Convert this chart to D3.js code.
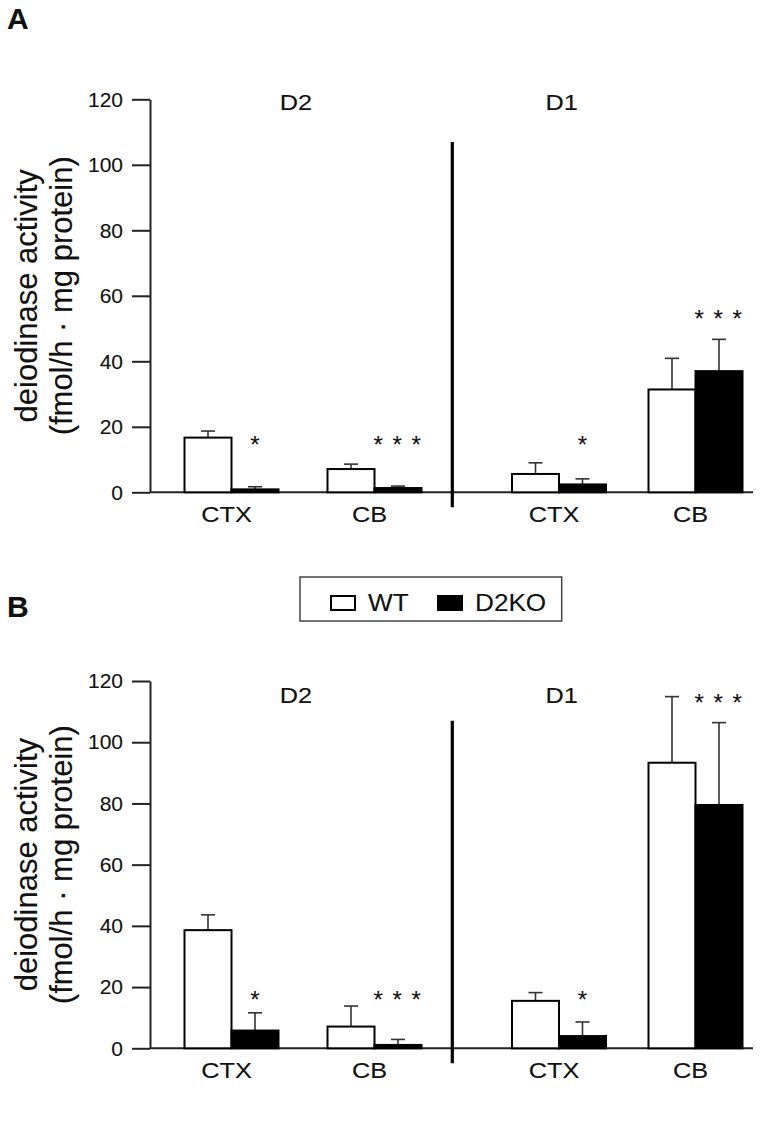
<!DOCTYPE html>
<html>
<head>
<meta charset="utf-8">
<script src="https://cdn.jsdelivr.net/npm/d3@7"></script>
<style>
  html, body { margin: 0; padding: 0; background: #fff; }
  svg { display: block; }
  text { font-family: "Liberation Sans", Arial, Helvetica, sans-serif; fill: #111; stroke: #111; stroke-width: 0.12px; }
</style>
</head>
<body>
<svg id="chart" width="761" height="1125"></svg>
<script>
// ---------------- data ----------------
const enzymes = ["D2", "D1"];
const regions = ["CTX", "CB"];
const genotypes = ["WT", "D2KO"];
const yTicks = [0, 20, 40, 60, 80, 100, 120];
const panelLabels = ["A", "B"];
const yTitle1 = "deiodinase activity";
const yTitle2 = "(fmol/h · mg protein)";

// order of values: D2-CTX, D2-CB, D1-CTX, D1-CB
const aWT    = [16.7, 7.1, 5.6, 31.4];
const aWTerr = [2.0, 1.5, 3.4, 9.5];
const aKO    = [0.9, 1.3, 2.4, 37.0];
const aKOerr = [0.8, 0.6, 1.7, 9.7];

const bWT    = [38.6, 7.1, 15.5, 93.3];
const bWTerr = [5.0, 6.7, 2.7, 21.6];
const bKO    = [5.8, 1.1, 4.0, 79.5];
const bKOerr = [5.8, 1.8, 4.6, 26.9];

const sigLabels = ["*", "***", "*", "***"];
const aSigAt = [16.0, 16.0, 16.0, 54.5];
const bSigAt = [17.4, 17.4, 17.4, 114.4];

// ---------------- drawing ----------------
const svg = d3.select("#chart");

const xCenters = {
  D2: d3.scalePoint().domain(regions).range([231.5, 374.5]),
  D1: d3.scalePoint().domain(regions).range([559, 695.5])
};
const xSub = d3.scaleBand().domain(genotypes).range([-47, 47]).paddingInner(0);
const xAxisStart = 150, xAxisEnd = 753, sepX = 452.3;

function wideText(parent, x, y, str, size, sx, anchor) {
  return parent.append("text")
    .attr("transform", `translate(${x},${y}) scale(${sx},1)`)
    .attr("text-anchor", anchor || "middle")
    .style("font-size", size + "px")
    .text(str);
}

function drawPanel(cfg) {
  const g = svg.append("g");
  const y = d3.scaleLinear().domain([0, 120]).range([cfg.y0, cfg.y120]);

  // y axis
  const ax = g.append("g")
    .attr("transform", `translate(${xAxisStart},0)`)
    .call(d3.axisLeft(y).tickValues(yTicks).tickSize(18).tickSizeOuter(0).tickPadding(9));
  ax.selectAll("path, line").attr("stroke", "#222").attr("stroke-width", 2);
  ax.selectAll("text").style("font-size", "21px").attr("fill", "#111")
    .style("font-family", "'Liberation Sans', Arial, sans-serif");

  // x axis baseline
  g.append("line")
    .attr("x1", xAxisStart).attr("x2", xAxisEnd)
    .attr("y1", y(0)).attr("y2", y(0))
    .attr("stroke", "#222").attr("stroke-width", 2);

  // separator
  g.append("line")
    .attr("x1", sepX).attr("x2", sepX)
    .attr("y1", y(107)).attr("y2", y(0) + 15)
    .attr("stroke", "#000").attr("stroke-width", 3.2);

  // y title
  const cy = (y(0) + y(120)) / 2;
  g.append("text").attr("transform", `translate(37,${cy}) rotate(-90)`)
    .attr("text-anchor", "middle").style("font-size", "31px").text(yTitle1);
  g.append("text").attr("transform", `translate(72,${cy}) rotate(-90)`)
    .attr("text-anchor", "middle").style("font-size", "31px").text(yTitle2);

  // panel label
  g.append("text").attr("x", 7).attr("y", cfg.labelY)
    .style("font-size", "30px").style("font-weight", "bold").text(cfg.label);

  // data rows
  const rows = [];
  enzymes.forEach((enz, ei) => {
    regions.forEach((reg, ri) => {
      const i = ei * 2 + ri;
      rows.push({
        enz, reg, i,
        vals: [
          { gen: "WT", v: cfg.wt[i], e: cfg.wtErr[i] },
          { gen: "D2KO", v: cfg.ko[i], e: cfg.koErr[i] }
        ],
        sig: sigLabels[i], sigAt: cfg.sigAt[i]
      });
    });
  });

  rows.forEach(r => {
    const cx = xCenters[r.enz](r.reg);
    // error bars
    r.vals.forEach(d => {
      const bx = cx + xSub(d.gen) + xSub.bandwidth() / 2;
      g.append("line").attr("x1", bx).attr("x2", bx)
        .attr("y1", y(d.v)).attr("y2", y(d.v + d.e))
        .attr("stroke", "#333").attr("stroke-width", 1.6);
      g.append("line").attr("x1", bx - 7).attr("x2", bx + 7)
        .attr("y1", y(d.v + d.e)).attr("y2", y(d.v + d.e))
        .attr("stroke", "#333").attr("stroke-width", 1.6);
    });
    r.vals.forEach(d => {
      const bx = cx + xSub(d.gen);
      g.append("rect")
        .attr("x", bx).attr("y", y(d.v))
        .attr("width", xSub.bandwidth()).attr("height", y(0) - y(d.v))
        .attr("fill", d.gen === "WT" ? "#fff" : "#000")
        .attr("stroke", "#000").attr("stroke-width", 2);
    });
    // significance
    const kx = cx + xSub("D2KO") + xSub.bandwidth() / 2;
    g.append("text").attr("x", kx).attr("y", y(r.sigAt) + 13)
      .attr("text-anchor", "middle").style("font-size", "24px")
      .style("letter-spacing", r.sig.length > 1 ? "1.5px" : "0px")
      .text(r.sig.split("").join(" "));
    // category label
    wideText(g, cx - 5, y(0) + 30, r.reg, 22, 1.15);
  });

  // enzyme labels
  enzymes.forEach(enz => {
    const mid = enz === "D2" ? 296 : 561.7;
    wideText(g, mid, cfg.enzY, enz, 22, 1.15);
  });
}

drawPanel({ label: panelLabels[0], labelY: 29, y0: 492.3, y120: 99.3, enzY: 110,
  wt: aWT, wtErr: aWTerr, ko: aKO, koErr: aKOerr, sigAt: aSigAt });
drawPanel({ label: panelLabels[1], labelY: 617, y0: 1048.3, y120: 681, enzY: 703,
  wt: bWT, wtErr: bWTerr, ko: bKO, koErr: bKOerr, sigAt: bSigAt });

// legend
const leg = svg.append("g");
leg.append("rect").attr("x", 300).attr("y", 577).attr("width", 261.7).attr("height", 44)
  .attr("fill", "#fff").attr("stroke", "#444").attr("stroke-width", 1.5);
const legItems = [
  { gen: genotypes[0], sx: 331, tx: 368 },
  { gen: genotypes[1], sx: 438, tx: 475 }
];
legItems.forEach(it => {
  leg.append("rect").attr("x", it.sx).attr("y", 596).attr("width", 24).attr("height", 14)
    .attr("fill", it.gen === "WT" ? "#fff" : "#000").attr("stroke", "#000").attr("stroke-width", 2);
  wideText(leg, it.tx, 611, it.gen, 24, 1.09, "start");
});
</script>
</body>
</html>
